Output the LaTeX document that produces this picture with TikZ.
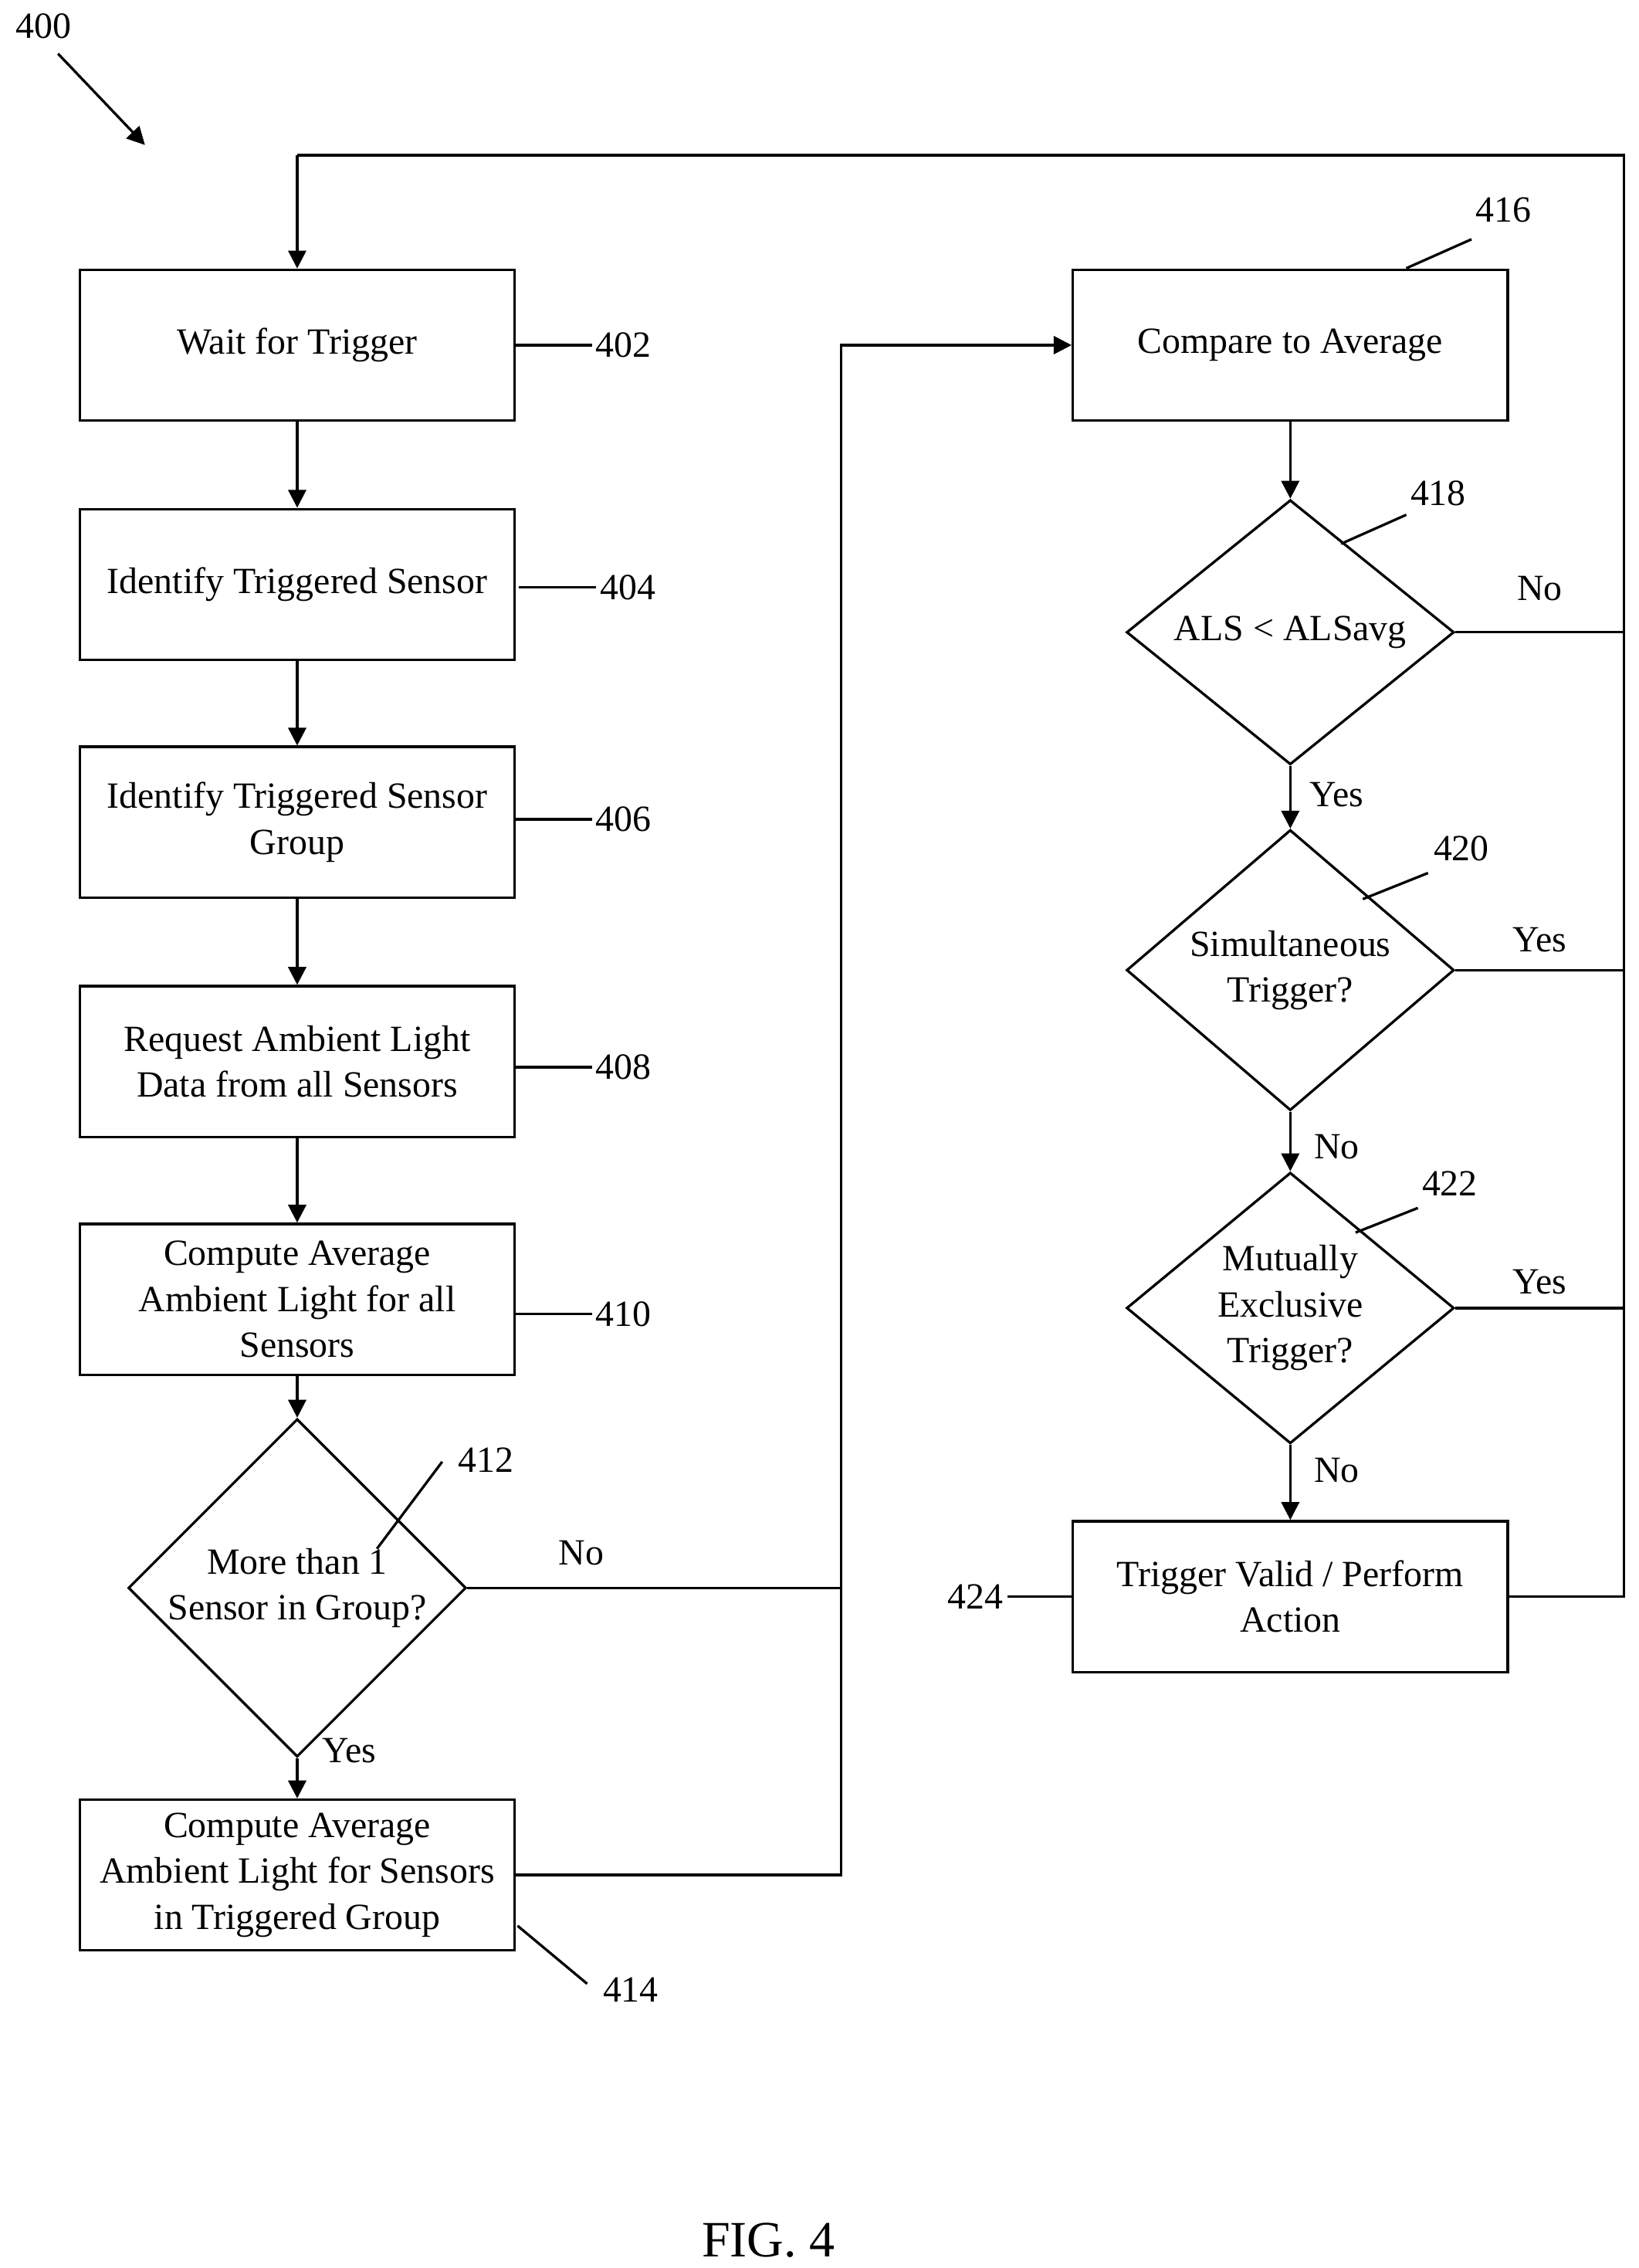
\documentclass[tikz,border=0pt]{standalone}
\usepackage{fontspec}
\setmainfont{Liberation Serif}
\usetikzlibrary{shapes.geometric,arrows.meta}
\begin{document}
\begin{tikzpicture}[x=0.02cm,y=-0.02cm,line width=1pt,
  every node/.style={font=\fontsize{14.5}{18}\selectfont},
  box/.style={draw,rectangle,minimum width=6cm,minimum height=2.08cm,align=center,inner sep=2pt},
  dia/.style={draw,diamond,minimum width=4.52cm,minimum height=3.48cm,align=center,inner sep=0pt},
  arr/.style={-{Triangle[length=7pt,width=7pt]}},
  lbl/.style={inner sep=1pt}]
\useasboundingbox (0,0) rectangle (1130,1564);
\node[box] (b402) at (205,238) {Wait for Trigger};
\node[box] (b404) at (205,403) {Identify Triggered Sensor};
\node[box] (b406) at (205,567) {Identify Triggered Sensor\\Group};
\node[box] (b408) at (205,732) {Request Ambient Light\\Data from all Sensors};
\node[box] (b410) at (205,896) {Compute Average\\Ambient Light for all\\Sensors};
\node[dia] (d412) at (205,1095) {More than 1\\Sensor in Group?};
\node[box] (b414) at (205,1293) {Compute Average\\Ambient Light for Sensors\\in Triggered Group};
\node[box] (b416) at (890,238) {Compare to Average};
\node[dia] (d418) at (890,436) {ALS < ALSavg};
\node[dia] (d420) at (890,669) {Simultaneous\\Trigger?};
\node[dia] (d422) at (890,902) {Mutually\\Exclusive\\Trigger?};
\node[box] (b424) at (890,1101) {Trigger Valid / Perform\\Action};
\draw[arr] (b402) -- (b404);
\draw[arr] (b404) -- (b406);
\draw[arr] (b406) -- (b408);
\draw[arr] (b408) -- (b410);
\draw[arr] (b410) -- (d412);
\draw[arr] (d412) -- (b414);
\draw[arr] (b416) -- (d418);
\draw[arr] (d418) -- (d420);
\draw[arr] (d420) -- (d422);
\draw[arr] (d422) -- (b424);
\coordinate (j1) at (580,1095);
\coordinate (j2) at (580,238);
\coordinate (r1) at (1120,1101);
\coordinate (r2) at (1120,107);
\coordinate (r3) at (205,107);
\draw (d412.east) -- (j1);
\draw (b414.east) -| (j1);
\draw[arr] (j1) -- (j2) -- (b416.west);
\draw (b424.east) -- (r1) -- (r2) -- (r3);
\draw[arr] (r3) -- (b402.north);
\draw (d418.east) -- (1120,436);
\draw (d420.east) -- (1120,669);
\draw (d422.east) -- (1120,902);
\node at (1062,406) {No};
\node at (922,548) {Yes};
\node at (1062,648) {Yes};
\node at (922,791) {No};
\node at (1062,884) {Yes};
\node at (922,1014) {No};
\node at (401,1071) {No};
\node at (241,1207) {Yes};
\node[lbl] (n402) at (430,238) {402}; \draw (b402.east) -- (n402.west);
\node[lbl] (n404) at (433,405) {404}; \draw (358,405) -- (n404.west);
\node[lbl] (n406) at (430,565) {406}; \draw (355,565) -- (n406.west);
\node[lbl] (n408) at (430,736) {408}; \draw (355,736) -- (n408.west);
\node[lbl] (n410) at (430,906) {410}; \draw (355,906) -- (n410.west);
\node[lbl] (n412) at (335,1007) {412}; \draw (260,1068) -- (305,1008);
\node[lbl] (n414) at (435,1372) {414}; \draw (357,1328) -- (405,1368);
\node[lbl] (n416) at (1037,145) {416}; \draw (970,185) -- (1015,165);
\node[lbl] (n418) at (992,340) {418}; \draw (925,375) -- (970,355);
\node[lbl] (n420) at (1008,585) {420}; \draw (940,620) -- (985,602);
\node[lbl] (n422) at (1000,816) {422}; \draw (935,850) -- (978,833);
\node[lbl] (n424) at (673,1101) {424}; \draw (n424.east) -- (b424.west);
\node[lbl] (n400) at (30,18) {400};
\coordinate (a400) at (100,100);
\draw[arr] (40,37) -- (a400);
\node (fig) at (530,1545) {\fontsize{20}{24}\selectfont FIG. 4};
\end{tikzpicture}
\end{document}
